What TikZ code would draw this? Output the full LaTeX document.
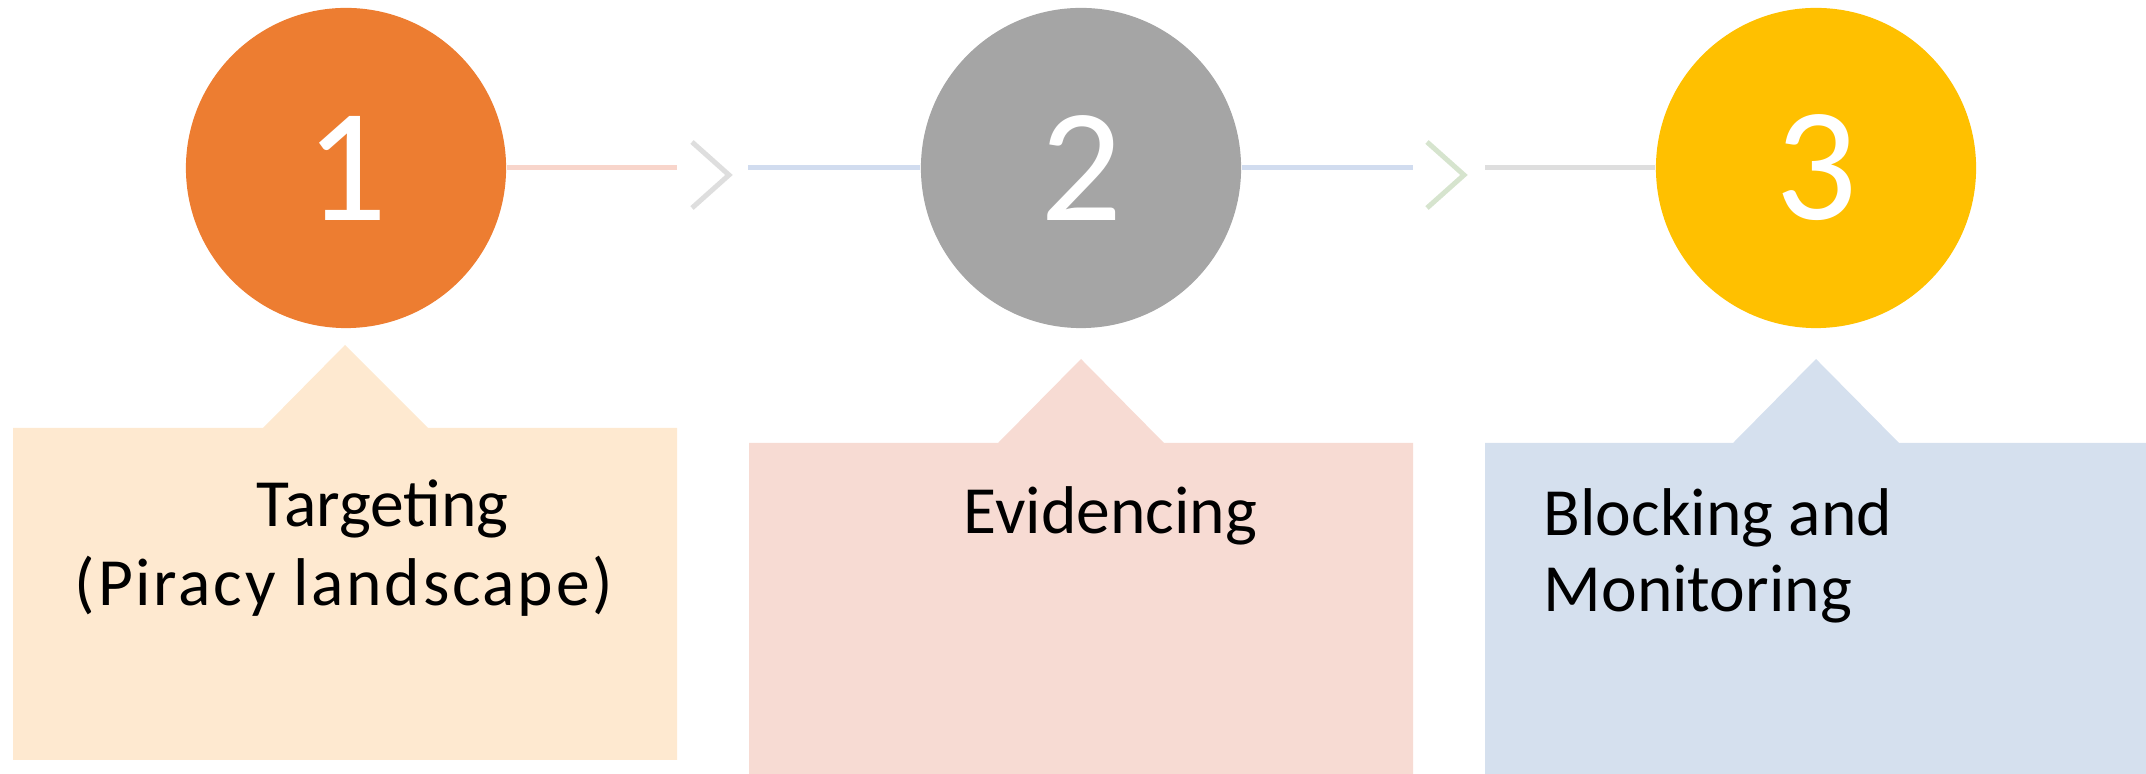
\documentclass[tikz,border=0pt]{standalone}
\usepackage{fontspec}
\setmainfont{Carlito}
\usepackage{xcolor}
\usetikzlibrary{positioning, calc}

\definecolor{numorange}{HTML}{ED7D31}
\definecolor{numgray}{HTML}{A5A5A5}
\definecolor{numgold}{HTML}{FFC000}
\definecolor{boxpeach}{HTML}{FEE9D0}
\definecolor{boxpink}{HTML}{F7DBD3}
\definecolor{boxblue}{HTML}{D5E0EE}
\definecolor{linesalmon}{HTML}{F8D5CB}
\definecolor{lineblue}{HTML}{D1DCEF}
\definecolor{linegray}{HTML}{DEDEDE}
\definecolor{chevgray}{HTML}{DEDEDE}
\definecolor{chevgreen}{HTML}{D6E4CE}

\begin{document}
\begin{tikzpicture}[x=0.01cm, y=-0.01cm,
    stepcircle/.style={circle, minimum size=3.2cm, inner sep=0pt, text=white,
      font=\fontsize{46}{46}\selectfont},
    steptext/.style={inner sep=0pt, text=black, font=\fontsize{19.2}{23}\selectfont},
    link/.style={line width=0.05cm},
    chev/.style={line width=0.05cm}]
  \useasboundingbox (0,0) rectangle (2146,774);

  % Callout boxes
  \fill[boxpeach] (13,428) -- (263,428) -- (345,345) -- (428,428) -- (677,428)
    -- (677,760) -- (13,760) -- cycle;
  \fill[boxpink] (749,443) -- (998,443) -- (1081,359) -- (1164,443) -- (1413,443)
    -- (1413,774) -- (749,774) -- cycle;
  \fill[boxblue] (1485,443) -- (1733,443) -- (1816,359) -- (1899,443) -- (2146,443)
    -- (2146,774) -- (1485,774) -- cycle;

  % Steps
  \node[stepcircle, fill=numorange] (c1) at (346,168) {1};
  \node[stepcircle, fill=numgray] (c2) at (1081,168) {2};
  \node[stepcircle, fill=numgold] (c3) at (1816,168) {3};

  % Links
  \coordinate (l1) at (677,168);
  \coordinate (l2) at (748,168);
  \coordinate (l3) at (1413,168);
  \coordinate (l4) at (1485,168);
  \draw[link, linesalmon] (c1.east) -- (l1);
  \draw[link, lineblue] (l2) -- (c2.west);
  \draw[link, lineblue] (c2.east) -- (l3);
  \draw[link, linegray] (l4) -- (c3.west);

  % Chevrons
  \draw[chev, chevgray] (692,142) -- ++(37,33) -- ++(-37,33);
  \draw[chev, chevgreen] (1427,142) -- ++(37,33) -- ++(-37,33);

  % Texts
  \node[steptext, anchor=base west] (t1) at (256,527) {Targeting};
  \node[steptext, anchor=base] (t1b) at (344,606)
    {\addfontfeatures{LetterSpace=4}(Piracy landscape)};
  \node[steptext, anchor=base west] (t2) at (963,534) {Evidencing};
  \node[steptext, anchor=base west] (t3) at (1543,536) {Blocking and};
  \node[steptext, anchor=base west] (t3b) at (1543,612) {Monitoring};
\end{tikzpicture}
\end{document}
